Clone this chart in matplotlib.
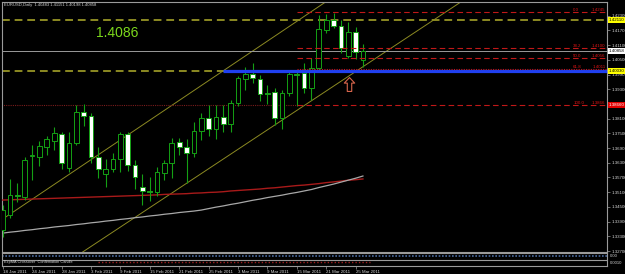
import matplotlib
matplotlib.use("Agg")
import matplotlib.pyplot as plt
import matplotlib.transforms as mtransforms
from matplotlib.path import Path

# EURUSD daily, 18 Jan 2011 .. 28 Mar 2011
opens = [1.3356, 1.3417, 1.3498, 1.3490, 1.3657, 1.3653, 1.3694, 1.3718, 1.3747, 1.3608,
         1.3710, 1.3836, 1.3820, 1.3653, 1.3584, 1.3604, 1.3645, 1.3747, 1.3620, 1.3531,
         1.3515, 1.3510, 1.3588, 1.3628, 1.3714, 1.3694, 1.3669, 1.3759, 1.3812, 1.3767,
         1.3816, 1.3787, 1.3873, 1.3971, 1.3991, 1.3971, 1.3914, 1.3918, 1.3812, 1.3914,
         1.3991, 1.3995, 1.3934, 1.4015, 1.4170, 1.4211, 1.4190, 1.4064, 1.4162, 1.40483]
highs = [1.3457, 1.3563, 1.3547, 1.3653, 1.3702, 1.3718, 1.3738, 1.3775, 1.3755, 1.3755,
         1.3865, 1.3869, 1.3832, 1.3694, 1.3645, 1.3669, 1.3755, 1.3755, 1.3641, 1.3584,
         1.3572, 1.3612, 1.3641, 1.3730, 1.3730, 1.3726, 1.3795, 1.3832, 1.3865, 1.3865,
         1.3865, 1.3885, 1.3983, 1.4019, 1.4036, 1.3987, 1.3946, 1.3934, 1.3926, 1.4007,
         1.3999, 1.4036, 1.4056, 1.4231, 1.4235, 1.4243, 1.4211, 1.4203, 1.4186, 1.41151]
lows = [1.3327, 1.3405, 1.3470, 1.3478, 1.3559, 1.3616, 1.3661, 1.3681, 1.3604, 1.3592,
        1.3702, 1.3779, 1.3628, 1.3567, 1.3531, 1.3592, 1.3592, 1.3596, 1.3523, 1.3457,
        1.3474, 1.3494, 1.3559, 1.3567, 1.3661, 1.3547, 1.3653, 1.3722, 1.3738, 1.3726,
        1.3755, 1.3755, 1.3861, 1.3926, 1.3954, 1.3881, 1.3869, 1.3783, 1.3767, 1.3901,
        1.3861, 1.3914, 1.3885, 1.3999, 1.4158, 1.4178, 1.4076, 1.4056, 1.4052, 1.40198]
closes = [1.3437, 1.3498, 1.3494, 1.3641, 1.3661, 1.3698, 1.3726, 1.3751, 1.3628, 1.3710,
          1.3836, 1.3820, 1.3653, 1.3604, 1.3604, 1.3645, 1.3747, 1.3620, 1.3572, 1.3515,
          1.3510, 1.3592, 1.3628, 1.3710, 1.3694, 1.3669, 1.3759, 1.3812, 1.3767, 1.3816,
          1.3787, 1.3873, 1.3975, 1.3991, 1.3975, 1.3909, 1.3912, 1.3812, 1.3914, 1.3991,
          1.3987, 1.3934, 1.4015, 1.4174, 1.4211, 1.4190, 1.4097, 1.4162, 1.4080, 1.40858]
bars = list(range(len(opens)))

# moving averages (red and grey) at the bottom of the chart
ma_red = [1.3478, 1.3479, 1.3480, 1.3481, 1.3482, 1.3483, 1.3484, 1.3485, 1.3486, 1.3487,
          1.3488, 1.3489, 1.3490, 1.3491, 1.3492, 1.3493, 1.3494, 1.3495, 1.3496, 1.3497,
          1.3498, 1.3499, 1.3501, 1.3502, 1.3503, 1.3504, 1.3506, 1.3507, 1.3509, 1.3510,
          1.3512, 1.3515, 1.3517, 1.3519, 1.3521, 1.3523, 1.3526, 1.3528, 1.3531, 1.3534,
          1.3537, 1.3539, 1.3542, 1.3545, 1.3549, 1.3552, 1.3555, 1.3559, 1.3561, 1.3564]
ma_grey = [1.3343, 1.3347, 1.3350, 1.3354, 1.3357, 1.3361, 1.3364, 1.3368, 1.3371, 1.3374,
           1.3378, 1.3381, 1.3385, 1.3388, 1.3392, 1.3395, 1.3399, 1.3402, 1.3406, 1.3409,
           1.3413, 1.3416, 1.3420, 1.3423, 1.3427, 1.3430, 1.3433, 1.3437, 1.3443, 1.3449,
           1.3454, 1.3460, 1.3465, 1.3471, 1.3477, 1.3482, 1.3488, 1.3493, 1.3498, 1.3504,
           1.3509, 1.3515, 1.3521, 1.3529, 1.3536, 1.3543, 1.3551, 1.3559, 1.3567, 1.3576]

date_labels = ["18 Jan 2011", "24 Jan 2011", "28 Jan 2011", "3 Feb 2011", "9 Feb 2011",
               "15 Feb 2011", "21 Feb 2011", "25 Feb 2011", "3 Mar 2011", "9 Mar 2011",
               "15 Mar 2011", "21 Mar 2011", "25 Mar 2011"]
date_label_bars = [0, 4, 8, 12, 16, 20, 24, 28, 32, 36, 40, 44, 48]

# 1.38700 sits under the red fibo box, so it is left out
price_ticks = [1.3270, 1.3330, 1.3390, 1.3450, 1.3510, 1.3570, 1.3630, 1.3690, 1.3750,
               1.3810, 1.3930, 1.3990, 1.4050, 1.4110, 1.4170, 1.4230]
price_tick_labels = ["1.32700", "1.33300", "1.33900", "1.34500", "1.35100", "1.35700",
                     "1.36300", "1.36900", "1.37500", "1.38100", "1.39300",
                     "1.39900", "1.40500", "1.41100", "1.41700", "1.42300"]

olive_levels = [1.4211, 1.4003]
support_price = 1.4003
support_from = 30
bid = 1.40858

fib_from = 40
fib_names = ["0.0", "38.2", "50.0", "61.8", "100.0"]
fib_prices = [1.4245, 1.4100, 1.4056, 1.4011, 1.3866]

channel_upper = [(3, 1.3461), (40, 1.4207)]
channel_lower = [(20, 1.3447), (60, 1.4240)]

arrow_bar, arrow_price = 47.1, 1.3952
note_bar, note_price, note_text = 15.6, 1.4160, "1.4086"
header = "EURUSD,Daily  1.40483 1.41151 1.40198 1.40858"

W, H = 625, 274
fig = plt.figure(figsize=(W / 100, H / 100), dpi=100, facecolor="black")
plt.rcParams["font.family"] = ["Liberation Sans", "DejaVu Sans"]

ax = fig.add_axes([2 / W, 1 - 252 / H, 605 / W, 250.5 / H], facecolor="black")
sub = fig.add_axes([2 / W, 1 - 266 / H, 605 / W, 13 / H], facecolor="black", sharex=ax)

grey = "#9a9a9a"
green = "#14a014"
olive = "#8c8a22"
txt = "#d4d4d4"

# candles
ax.vlines(bars, lows, highs, color=green, lw=0.8, zorder=4)
bottoms = [min(o, c) for o, c in zip(opens, closes)]
heights = [abs(c - o) for o, c in zip(opens, closes)]
fills = ["black" if c >= o else "white" for o, c in zip(opens, closes)]
ax.bar(bars, heights, bottom=bottoms, width=0.64, color=fills, edgecolor=green,
       linewidth=0.7, zorder=5)

# moving averages
ax.plot(bars, ma_red, color="#a81a1a", lw=1.0, zorder=3)
ax.plot(bars, ma_grey, color="#a8a8a8", lw=0.9, zorder=3)

# channel
for p1, p2 in (channel_upper, channel_lower):
    ax.axline(p1, p2, color=olive, lw=0.7, zorder=2)

# horizontal levels
for lv in olive_levels:
    ax.axhline(lv, color=olive, lw=1.4, ls=(0, (4, 2.5)), zorder=2)
ax.axhline(bid, color=grey, lw=0.7, zorder=2)
ax.hlines(support_price, support_from, 90, color="#1f40f0", lw=2.3, zorder=6)

# fibonacci
for name, fp in zip(fib_names, fib_prices):
    ls = (0, (1, 1.2)) if name == "61.8" else (0, (5, 3))
    ax.hlines(fp, fib_from, 90, color="#c01818", lw=0.8, ls=ls, zorder=7)
    ax.text(77.6, fp, name, color="#e01414", fontsize=3.2, va="bottom", ha="left", zorder=8)
    ax.text(82.0, fp, "%.4f" % fp, color="#e01414", fontsize=3.2, va="bottom", ha="right",
            zorder=8)
ax.hlines(fib_prices[-1], -1, fib_from, color="#7a1c1c", lw=0.8, ls=(0, (1, 1)), zorder=2)

# hollow up arrow
arrow_path = Path([(0, 1), (0.75, 0.2), (0.32, 0.2), (0.32, -1), (-0.32, -1),
                   (-0.32, 0.2), (-0.75, 0.2), (0, 1)], closed=True)
ax.plot([arrow_bar], [arrow_price], marker=arrow_path, markersize=10, mfc="none",
        mec="#d8654c", mew=0.8, zorder=8)

ax.text(note_bar, note_price, note_text, color="#7cd81c", fontsize=10, ha="center",
        va="center", zorder=8)
ax.text(0.003, 0.987, header, transform=ax.transAxes, color=txt, fontsize=3.0,
        ha="left", va="center")

ax.set_xlim(-0.1, 82.2)
ax.set_ylim(1.3266, 1.4288)
ax.set_yticks(price_ticks)
ax.set_yticklabels(price_tick_labels)
ax.yaxis.tick_right()
ax.tick_params(axis="y", length=2, width=0.5, color=grey, labelsize=3.2, labelcolor=txt, pad=1.5)
ax.tick_params(axis="x", bottom=False, labelbottom=False)
for s in ax.spines.values():
    s.set_color(grey)
    s.set_linewidth(0.8)

# price boxes on the axis
tr = mtransforms.blended_transform_factory(ax.transAxes, ax.transData)
boxes = [(olive_levels[0], "#ffff00", "black"), (olive_levels[1], "#ffff00", "black"),
         (bid, "white", "black"), (fib_prices[-1], "#e00000", "white")]
for val, bg, fg in boxes:
    ax.text(1.003, val, "%.5f" % val, transform=tr, fontsize=3.2, color=fg, ha="left",
            va="center", clip_on=False, zorder=10,
            bbox=dict(boxstyle="square,pad=0.25", facecolor=bg, edgecolor="none"))

# indicator sub window
sub.set_ylim(0, 1)
sub.axhline(0.5, color=grey, lw=0.8)
sub.axhline(0.77, color="#4a6aa0", lw=1.2, ls=(0, (1, 1)))
sub.hlines(0.3, 13, 50, color="#a02020", lw=1.0, ls=(0, (1, 1.5)))
sub.text(0.003, 0.3, "ExpMA Crossover  Confirmation Candle", transform=sub.transAxes,
         fontsize=2.8, color=txt, va="center", ha="left")
sub.text(1.005, 0.77, "0.00", transform=sub.transAxes, fontsize=3.0, color=txt,
         va="center", ha="left", clip_on=False)
sub.text(1.005, 0.25, "0.0010", transform=sub.transAxes, fontsize=3.0, color=txt,
         va="center", ha="left", clip_on=False)
sub.set_yticks([])
sub.set_xticks(date_label_bars)
sub.set_xticklabels(date_labels)
sub.tick_params(axis="x", length=2, width=0.5, color=grey, labelsize=3.2, labelcolor=txt,
                pad=0.8)
plt.setp(sub.get_xticklabels(), ha="left")
for s in sub.spines.values():
    s.set_color(grey)
    s.set_linewidth(0.8)

fig.savefig("out.png", dpi=100, facecolor="black")
